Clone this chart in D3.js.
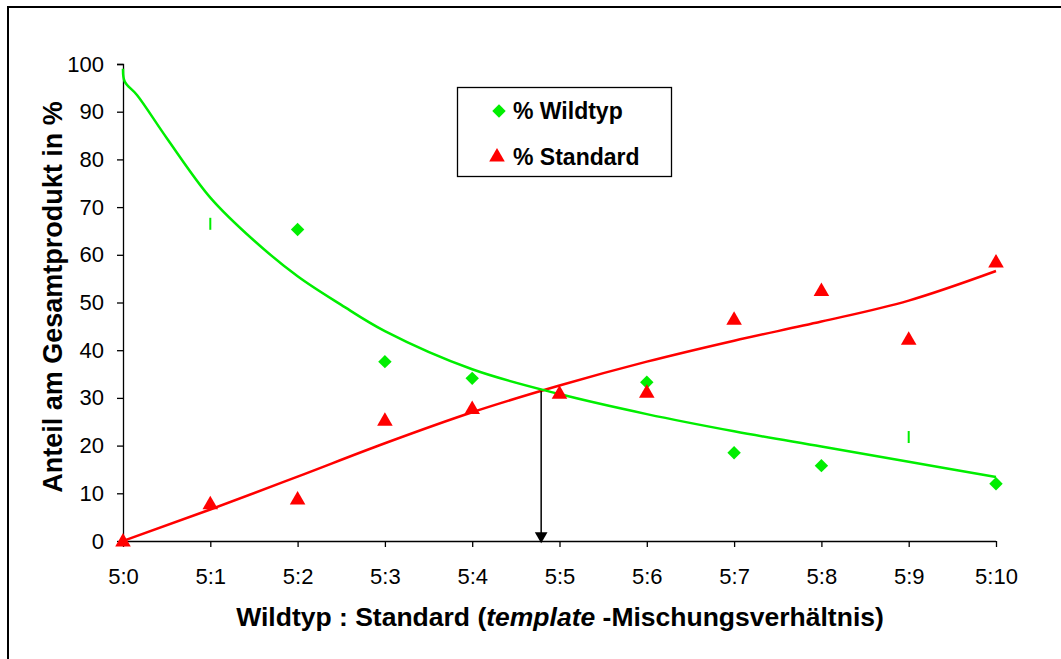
<!DOCTYPE html>
<html><head><meta charset="utf-8">
<script src="https://cdn.jsdelivr.net/npm/d3@7"></script>
<style>body{margin:0;background:#fff}svg{display:block}text{font-family:"Liberation Sans",Arial,sans-serif}</style>
</head><body><svg id="c" width="1061" height="659"></svg>
<script>
const categories = ["5:0","5:1","5:2","5:3","5:4","5:5","5:6","5:7","5:8","5:9","5:10"];
// null = no marker visible
const wildtyp = [null, 66.5, 65.3, 37.6, 34.1, null, 33.3, 18.5, 15.8, 21.8, 12.0];
// indices whose marker renders as a thin vertical dash in the reference
const wildtypDash = [1, 9];
const standard = [0, 7.8, 8.8, 25.3, 27.8, 31.0, 31.2, 46.5, 52.5, 42.3, 58.5];
// trend lines: [x in category units, value]
const wildtypTrendX = [0, 0.02, 0.16, 0.5, 1, 1.5, 2, 2.5, 3, 4, 5, 6, 7, 8, 9, 10];
const wildtypTrendY = [99, 96.3, 93.5, 84.5, 72, 63, 55.5, 49.5, 44, 36, 30.8, 26.6, 23, 19.8, 16.6, 13.4];
const standardTrendX = [0, 1, 2, 3, 4, 5, 6, 7, 8, 9, 10];
const standardTrendY = [0, 6.6, 13.5, 20.5, 27, 32.6, 37.6, 42, 46, 50.4, 56.6];
const yTicks = [0,10,20,30,40,50,60,70,80,90,100];
const crossing = {x: 4.79, y: 31.4};
const seriesNames = ["% Wildtyp", "% Standard"];
const colors = {wild: "#00ee00", std: "#ff0000"};

const svg = d3.select("#c");
// outer frame
svg.append("path").attr("d","M8,670 L8,7 L1070,7").attr("fill","none").attr("stroke","#000").attr("stroke-width",2);

const x = d3.scaleLinear().domain([0,10]).range([123,996]);
const y = d3.scaleLinear().domain([0,100]).range([541,64]);

// y axis
const ya = svg.append("g").attr("transform","translate(123,0)")
  .call(d3.axisLeft(y).tickValues(yTicks).tickSize(6).tickPadding(13).tickFormat(d3.format("d")));
ya.select(".domain").attr("d","M-6,64.5H0.5V541.5").attr("stroke","#000").attr("stroke-width",1.3);
ya.selectAll("text").attr("font-size",22).attr("fill","#000");
ya.selectAll("line").attr("stroke-width",1.3);

// x axis
const xa = svg.append("g").attr("transform","translate(0,541)")
  .call(d3.axisBottom(x).tickValues(d3.range(categories.length)).tickFormat(i=>categories[i]).tickSize(6).tickPadding(21));
xa.select(".domain").attr("d","M123,0.5H996").attr("stroke-width",1.3);
xa.selectAll("text").attr("font-size",22).attr("fill","#000");
xa.selectAll("line").attr("stroke-width",1.3);

// trend lines
const line = d3.line().x(d=>x(d[0])).y(d=>y(d[1])).curve(d3.curveMonotoneX);
const line2 = d3.line().x(d=>x(d[0])).y(d=>y(d[1])).curve(d3.curveCatmullRom.alpha(0.5));
svg.append("path").datum(d3.zip(standardTrendX, standardTrendY)).attr("d",line)
  .attr("fill","none").attr("stroke",colors.std).attr("stroke-width",2.5);
svg.append("path").datum(d3.zip(wildtypTrendX, wildtypTrendY)).attr("d",line2)
  .attr("fill","none").attr("stroke",colors.wild).attr("stroke-width",2.5);

// arrow
svg.append("line").attr("x1",x(crossing.x)).attr("x2",x(crossing.x)).attr("y1",y(crossing.y)).attr("y2",y(0)-8)
  .attr("stroke","#000").attr("stroke-width",1.5);
svg.append("path").attr("d",d3.symbol().type(d3.symbolTriangle).size(70)())
  .attr("transform",`translate(${x(crossing.x)},${y(0)-5}) rotate(180)`).attr("fill","#000");

// markers
const diamond = d3.symbol().type(d3.symbolDiamond2).size(115)();
const tri = d3.symbol().type(d3.symbolTriangle).size(105)();
svg.append("g").selectAll("path").data(wildtyp.map((v,i)=>[i,v]).filter(d=>d[1]!==null && !wildtypDash.includes(d[0])))
  .join("path").attr("d",diamond).attr("transform",d=>`translate(${x(d[0])},${y(d[1])})`).attr("fill",colors.wild);
svg.append("g").selectAll("rect").data(wildtypDash)
  .join("rect").attr("x",i=>x(i)-1).attr("y",i=>y(wildtyp[i])-6).attr("width",2).attr("height",12).attr("fill",colors.wild);
svg.append("g").selectAll("path").data(standard.map((v,i)=>[i,v]))
  .join("path").attr("d",tri).attr("transform",d=>`translate(${x(d[0])},${y(d[1])+1})`).attr("fill",colors.std);

// legend
const lg = svg.append("g");
lg.append("rect").attr("x",457.5).attr("y",87.5).attr("width",214).attr("height",89).attr("fill","#fff").attr("stroke","#000").attr("stroke-width",1.3);
lg.append("path").attr("d",diamond).attr("transform","translate(499,111)").attr("fill",colors.wild);
lg.append("path").attr("d",tri).attr("transform","translate(497,157)").attr("fill",colors.std);
lg.selectAll("text").data(seriesNames).join("text").attr("x",513).attr("y",(d,i)=>111+i*46).attr("dy","0.36em")
  .attr("font-size",23).attr("font-weight","bold").text(d=>d);

// axis titles
const xt = svg.append("text").attr("x",560).attr("y",626).attr("text-anchor","middle").attr("font-size",26.5).attr("font-weight","bold");
xt.append("tspan").text("Wildtyp : Standard (");
xt.append("tspan").attr("font-style","italic").text("template");
xt.append("tspan").text(" -Mischungsverhältnis)");
svg.append("text").attr("transform","translate(62,297) rotate(-90)").attr("text-anchor","middle")
  .attr("font-size",27).attr("font-weight","bold").text("Anteil am Gesamtprodukt in %");
</script></body></html>
